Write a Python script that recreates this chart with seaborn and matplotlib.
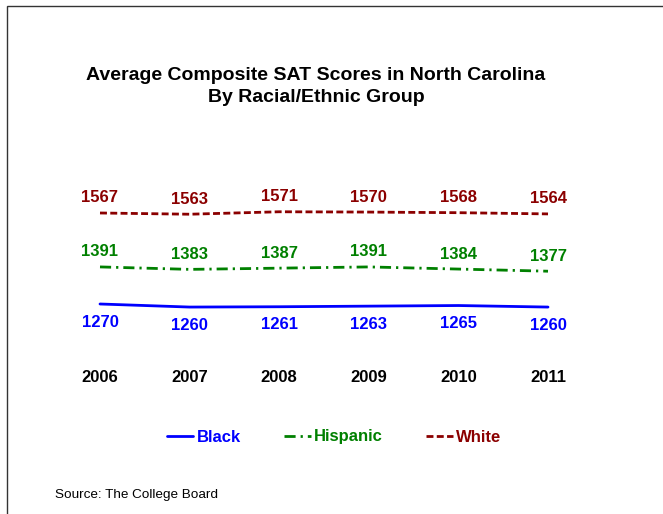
import matplotlib
matplotlib.use("Agg")
import matplotlib.pyplot as plt
import seaborn as sns
import pandas as pd
from matplotlib.patches import Rectangle

# data
years = [2006, 2007, 2008, 2009, 2010, 2011]
black = [1270, 1260, 1261, 1263, 1265, 1260]
hispanic = [1391, 1383, 1387, 1391, 1384, 1377]
white = [1567, 1563, 1571, 1570, 1568, 1564]
groups = ["Black", "Hispanic", "White"]
colors = {"Black": "#0000FF", "Hispanic": "#008000", "White": "#8B0000"}

sns.set_theme(style="white")
plt.rcParams["font.family"] = ["Liberation Sans", "DejaVu Sans"]
plt.rcParams["text.color"] = "black"

df = pd.DataFrame({
    "year": years * 3,
    "score": black + hispanic + white,
    "group": ["Black"] * 6 + ["Hispanic"] * 6 + ["White"] * 6,
})

fig = plt.figure(figsize=(6.63, 5.14), dpi=100)
ax = fig.add_axes([0.0905, 0.2996, 0.8145, 0.4475])

sns.lineplot(data=df, x="year", y="score", hue="group", style="group",
             palette=colors, hue_order=groups, style_order=groups,
             dashes={"Black": "", "Hispanic": (4.0, 1.8, 0.8, 1.8), "White": (2.5, 1.2)},
             linewidth=2.0, ax=ax, legend=True)

ax.set_xlim(2005.5536, 2011.5804)
ax.set_ylim(1087.2, 1837.9)
for s in ax.spines.values():
    s.set_visible(False)
ax.set_yticks([])
ax.set_xticks(years)
ax.set_xticklabels([str(y) for y in years], fontsize=12, fontweight="bold", color="black")
ax.tick_params(axis="x", length=0, pad=7)
ax.set_xlabel("")
ax.set_ylabel("")

# value labels
offsets = {"Black": -13, "Hispanic": 10.8, "White": 10.8}
for g, vals in zip(groups, [black, hispanic, white]):
    for x, v in zip(years, vals):
        ax.annotate(str(v), (x, v), xytext=(0, offsets[g]), textcoords="offset points",
                    ha="center", va="center", fontsize=12, fontweight="bold",
                    color=colors[g])

# legend
ax.get_legend().remove()
handles, labels = ax.get_legend_handles_labels()
leg = fig.legend(handles[-3:], labels[-3:], loc="center",
                 bbox_to_anchor=(334 / 663, 1 - 437 / 514), ncol=3, frameon=False,
                 prop={"size": 12, "weight": "bold"}, handlelength=1.6,
                 handletextpad=0.2, columnspacing=2.6)
for txt, g in zip(leg.get_texts(), groups):
    txt.set_color(colors[g])

fig.text(316 / 663, 1 - 75 / 514, "Average Composite SAT Scores in North Carolina",
         ha="center", va="center", fontsize=14, fontweight="bold", color="black")
fig.text(316 / 663, 1 - 98 / 514, "By Racial/Ethnic Group",
         ha="center", va="center", fontsize=14, fontweight="bold", color="black")
fig.text(55 / 663, 1 - 495 / 514, "Source: The College Board",
         ha="left", va="center", fontsize=9.7, color="black")

# outer frame (only top and left edges visible in the crop)
fig.patches.append(Rectangle((7 / 663, -0.1), 1.2, 1 - 6 / 514 + 0.1,
                             transform=fig.transFigure, fill=False,
                             edgecolor="#333333", linewidth=1))

fig.savefig("out.png", dpi=100)
